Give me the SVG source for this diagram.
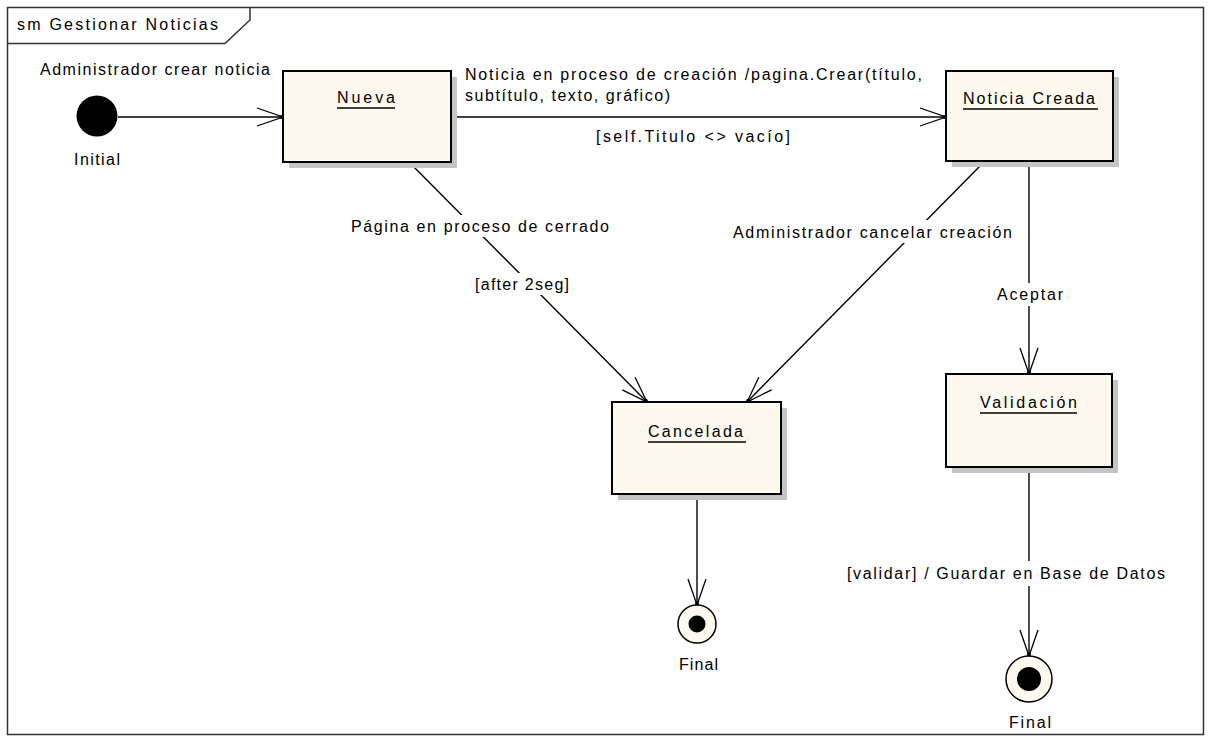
<svg xmlns="http://www.w3.org/2000/svg" width="1208" height="737" viewBox="0 0 1208 737">
<style>
  text { font-family: "Liberation Sans", Arial, sans-serif; font-size: 16px; fill: #000; }
  .box { fill: #FEF9EE; stroke: #000; stroke-width: 2; }
  .shadow { fill: #C4C4C4; }
  .conn { stroke: #000; stroke-width: 1.4; fill: none; }
  .ul { stroke: #000; stroke-width: 1.5; }
  .bg { fill: #fff; }
</style>
<defs>
  <marker id="open" markerUnits="userSpaceOnUse" markerWidth="40" markerHeight="30" viewBox="-30 -15 40 30" refX="0" refY="0" orient="auto">
    <path d="M-26,-9 L0,0 L-26,9" fill="none" stroke="#000" stroke-width="1.3"/>
    <circle cx="-1.5" cy="0" r="2" fill="#000"/>
  </marker>
</defs>
<rect x="0" y="0" width="1208" height="737" fill="#fff"/>

<g id="frame">
  <rect x="7.5" y="7.5" width="1196" height="727" fill="none" stroke="#333" stroke-width="1.5"/>
  <path d="M7.5,43.5 H225 L250,20 V7.5" fill="none" stroke="#333" stroke-width="1.5"/>
  <text x="17" y="30" textLength="201" lengthAdjust="spacing">sm Gestionar Noticias</text>
</g>

<g id="connectors">
  <line class="conn" x1="118" y1="117" x2="283" y2="117" marker-end="url(#open)"/>
  <line class="conn" x1="451" y1="117" x2="946" y2="117" marker-end="url(#open)"/>
  <line class="conn" x1="412" y1="165" x2="647" y2="402" marker-end="url(#open)"/>
  <line class="conn" x1="982" y1="164" x2="747" y2="402" marker-end="url(#open)"/>
  <line class="conn" x1="1029" y1="162" x2="1029" y2="374" marker-end="url(#open)"/>
  <line class="conn" x1="697" y1="494" x2="697" y2="605" marker-end="url(#open)"/>
  <line class="conn" x1="1029" y1="467" x2="1029" y2="656" marker-end="url(#open)"/>

  <text x="40" y="75" textLength="230" lengthAdjust="spacing">Administrador crear noticia</text>
  <text x="465" y="80" textLength="457" lengthAdjust="spacing">Noticia en proceso de creación /pagina.Crear(título,</text>
  <text x="465" y="101" textLength="205" lengthAdjust="spacing">subtítulo, texto, gráfico)</text>
  <text x="596" y="142" textLength="194" lengthAdjust="spacing">[self.Titulo &lt;&gt; vacío]</text>

  <rect class="bg" x="350" y="215" width="260" height="22"/>
  <text x="351" y="232" textLength="258" lengthAdjust="spacing">Página en proceso de cerrado</text>
  <rect class="bg" x="474" y="273" width="96" height="22"/>
  <text x="475" y="290" textLength="94" lengthAdjust="spacing">[after 2seg]</text>

  <rect class="bg" x="732" y="220" width="281" height="23"/>
  <text x="733" y="238" textLength="279" lengthAdjust="spacing">Administrador cancelar creación</text>

  <rect class="bg" x="995" y="283" width="70" height="23"/>
  <text x="997" y="300" textLength="66" lengthAdjust="spacing">Aceptar</text>

  <rect class="bg" x="845" y="561" width="322" height="25"/>
  <text x="847" y="579" textLength="318" lengthAdjust="spacing">[validar] / Guardar en Base de Datos</text>
</g>

<g id="initial">
  <circle cx="97" cy="116" r="20.5" fill="#000"/>
  <text x="74" y="165" textLength="46" lengthAdjust="spacing">Initial</text>
</g>

<g id="nueva">
  <rect class="shadow" x="289" y="77" width="168" height="91"/>
  <rect class="box" x="283" y="71" width="168" height="91"/>
  <text x="337" y="103" textLength="58" lengthAdjust="spacing">Nueva</text>
  <line class="ul" x1="337" y1="108" x2="395" y2="108"/>
</g>

<g id="noticia-creada">
  <rect class="shadow" x="952" y="77" width="167" height="90"/>
  <rect class="box" x="946" y="71" width="167" height="90"/>
  <text x="963" y="104" textLength="132" lengthAdjust="spacing">Noticia Creada</text>
  <line class="ul" x1="963" y1="109" x2="1098" y2="109"/>
</g>

<g id="cancelada">
  <rect class="shadow" x="618" y="408" width="169" height="92"/>
  <rect class="box" x="612" y="402" width="169" height="92"/>
  <text x="648" y="437" textLength="95" lengthAdjust="spacing">Cancelada</text>
  <line class="ul" x1="648" y1="442" x2="746" y2="442"/>
</g>

<g id="validacion">
  <rect class="shadow" x="952" y="380" width="166" height="93"/>
  <rect class="box" x="946" y="374" width="166" height="93"/>
  <text x="980" y="408" textLength="97" lengthAdjust="spacing">Validación</text>
  <line class="ul" x1="980" y1="413" x2="1077" y2="413"/>
</g>

<g id="final1">
  <circle cx="697" cy="624" r="19" fill="#FEF9EE" stroke="#000" stroke-width="1.5"/>
  <circle cx="697" cy="624" r="8.5" fill="#000"/>
  <text x="679" y="670" textLength="39" lengthAdjust="spacing">Final</text>
</g>

<g id="final2">
  <circle cx="1029" cy="679" r="23" fill="#FEF9EE" stroke="#000" stroke-width="1.5"/>
  <circle cx="1029" cy="679" r="12" fill="#000"/>
  <text x="1009" y="728" textLength="42" lengthAdjust="spacing">Final</text>
</g>
</svg>
